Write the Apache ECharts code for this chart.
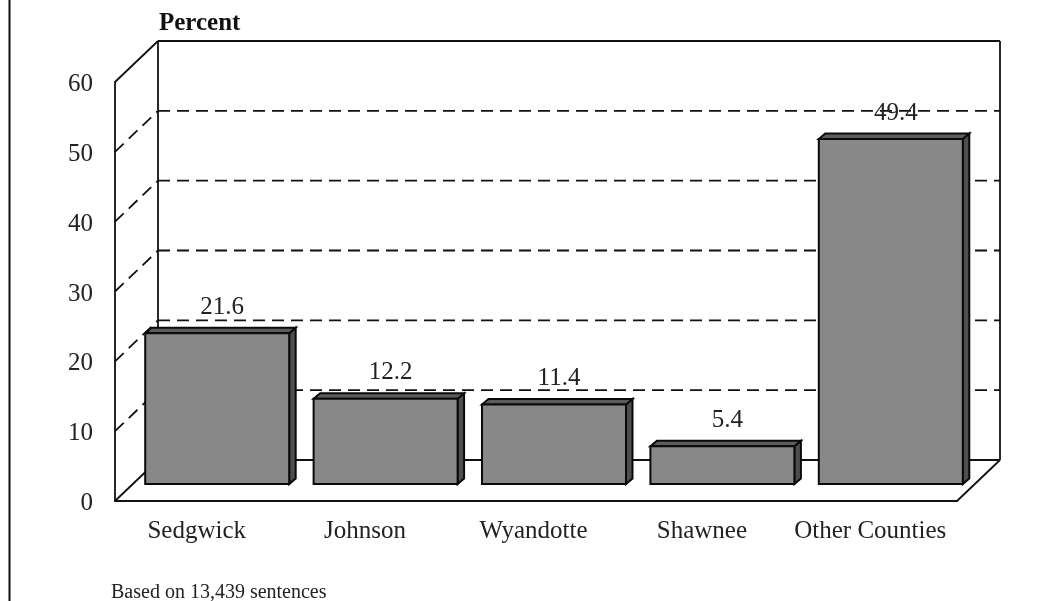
<!DOCTYPE html>
<html>
<head>
<meta charset="utf-8">
<style>html,body{margin:0;padding:0;background:#fff}#c{width:1038px;height:601px}</style>
<script src="https://cdn.jsdelivr.net/npm/echarts@6/dist/echarts.min.js"></script>
</head>
<body>
<div id="c"></div>
<script>
var categories = ['Sedgwick', 'Johnson', 'Wyandotte', 'Shawnee', 'Other Counties'];
var values = [21.6, 12.2, 11.4, 5.4, 49.4];
var labels = ['21.6', '12.2', '11.4', '5.4', '49.4'];
var yTicks = [0, 10, 20, 30, 40, 50, 60];
var yTitle = 'Percent';
var note = 'Based on 13,439 sentences';

var FONT = '"Liberation Serif","Times New Roman",serif';
var INK = '#111';
var DX = 43, DY = 41;      // depth of the box
var BX = 18, BY = 17;      // bar set-back from the front plane
var TX = 6.5, TY = 5.5;    // bar depth

var chart = echarts.init(document.getElementById('c'), null, {renderer: 'canvas'});

function line(x1, y1, x2, y2, dash) {
  return {
    type: 'line',
    shape: {x1: x1, y1: y1, x2: x2, y2: y2},
    style: {stroke: INK, lineWidth: 1.8, lineDash: dash ? [12, 7] : null}
  };
}

function renderWall(params, api) {
  var v = api.value(0);
  var rs = params.coordSys;
  var y = api.coord([0, v])[1];
  var x0 = rs.x, x1 = rs.x + rs.width;
  var dashed = v !== 0 && v !== 60;
  var kids = [
    line(x0, y, x0 + DX, y - DY, dashed),
    line(x0 + DX, y - DY, x1 + DX, y - DY, dashed)
  ];
  if (v === 0) {
    kids.push(line(x1, y, x1 + DX, y - DY));
    kids.push(line(x0 + DX, y - DY, x0 + DX, rs.y - DY));
    kids.push(line(x1 + DX, y - DY, x1 + DX, rs.y - DY));
  }
  return {type: 'group', children: kids};
}

function poly(points, fill) {
  return {
    type: 'polygon',
    shape: {points: points},
    style: {fill: fill, stroke: '#0a0a0a', lineWidth: 2, lineJoin: 'miter'}
  };
}

function renderBar(params, api) {
  var i = api.value(0);
  var v = api.value(1);
  var top = api.coord([i, v]);
  var base = api.coord([i, 0]);
  var w = api.size([1, 0])[0] * 0.855;
  var xl = top[0] + BX - w / 2, xr = xl + w;
  var yt = top[1] - BY, yb = base[1] - BY;
  return {
    type: 'group',
    children: [
      poly([[xr, yt], [xr + TX, yt - TY], [xr + TX, yb - TY], [xr, yb]], '#4e4e4e'),
      poly([[xl, yt], [xl + TX, yt - TY], [xr + TX, yt - TY], [xr, yt]], '#5c5c5c'),
      poly([[xl, yt], [xr, yt], [xr, yb], [xl, yb]], '#888888'),
      {
        type: 'text',
        z2: 10,
        style: {
          text: labels[i], x: top[0] + BX + 5, y: yt - 26,
          align: 'center', verticalAlign: 'middle',
          font: '25px ' + FONT, fill: '#222'
        }
      }
    ]
  };
}

chart.setOption({
  animation: false,
  backgroundColor: '#fff',
  title: [
    {text: yTitle, left: 154, top: 6,
      textStyle: {fontFamily: FONT, fontSize: 25, fontWeight: 'bold', color: '#111'}},
    {text: note, left: 106, top: 578,
      textStyle: {fontFamily: FONT, fontSize: 20, fontWeight: 'normal', color: '#222'}}
  ],
  grid: {left: 115, right: 81, top: 82, bottom: 100, containLabel: false},
  xAxis: {
    type: 'category',
    data: categories,
    axisLine: {show: true, lineStyle: {color: INK, width: 1.8}},
    axisTick: {show: false},
    axisLabel: {fontFamily: FONT, fontSize: 25, color: '#222', margin: 18, interval: 0, padding: [0, 5, 0, 0]},
    splitLine: {show: false}
  },
  yAxis: {
    type: 'value',
    min: 0, max: 60, interval: 10,
    axisLine: {show: true, lineStyle: {color: INK, width: 1.8}},
    axisTick: {show: false},
    axisLabel: {
      color: '#222', margin: 22,
      formatter: function (v) { return '{t|' + v + '}'; },
      rich: {t: {fontFamily: FONT, fontSize: 25, color: '#222', padding: [5, 0, 0, 0]}}
    },
    splitLine: {show: false}
  },
  graphic: [{
    type: 'line', silent: true,
    shape: {x1: 9.5, y1: 0, x2: 9.5, y2: 601},
    style: {stroke: INK, lineWidth: 2}
  }],
  series: [
    {type: 'custom', name: 'wall', clip: false, silent: true, z: 1,
      coordinateSystem: 'cartesian2d', renderItem: renderWall,
      data: yTicks.map(function (t) { return [t]; }),
      encode: {y: 0}},
    {type: 'custom', name: 'Percent', clip: false, z: 3,
      coordinateSystem: 'cartesian2d', renderItem: renderBar,
      data: values.map(function (v, i) { return [i, v]; }),
      encode: {x: 0, y: 1}}
  ]
});
</script>
</body>
</html>
